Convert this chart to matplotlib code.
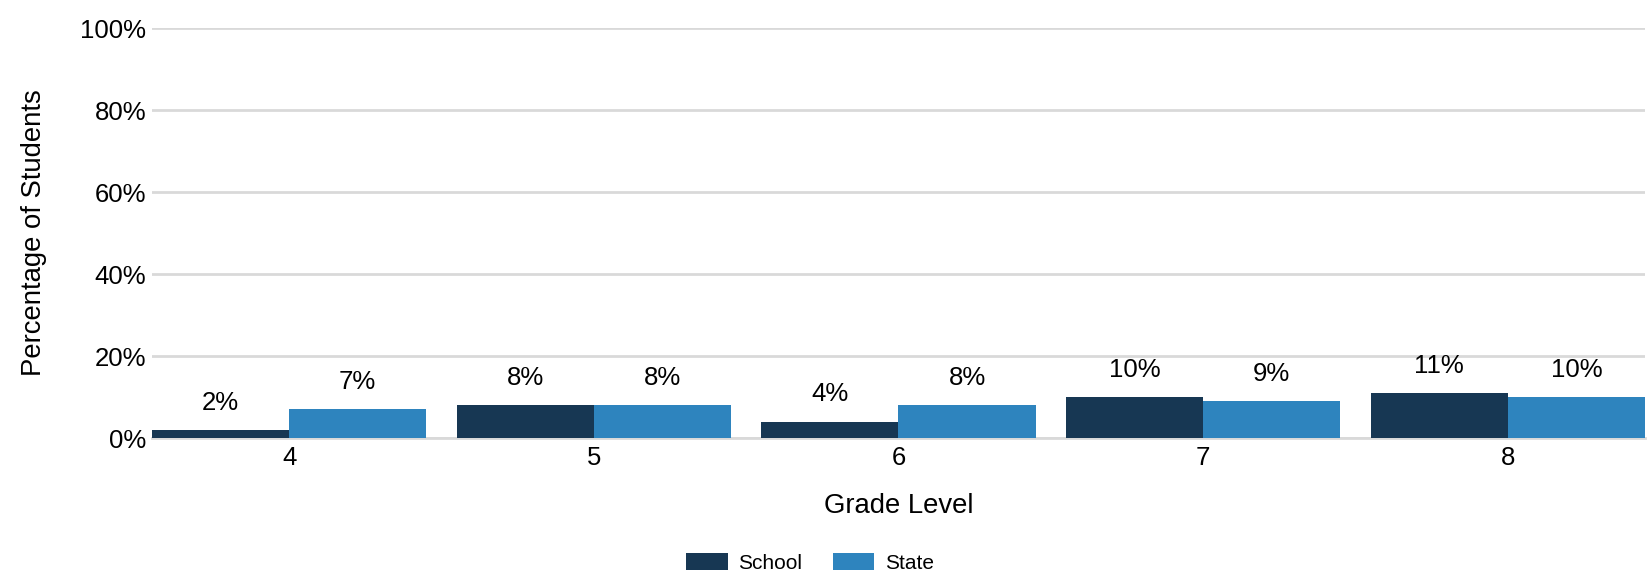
import numpy as np
import matplotlib
matplotlib.use("Agg")
import matplotlib.pyplot as plt
from matplotlib.ticker import FuncFormatter

plt.rcParams['font.family'] = ['Liberation Sans', 'DejaVu Sans']

grades = ["4", "5", "6", "7", "8"]
school = [2, 8, 4, 10, 11]
state = [7, 8, 8, 9, 10]
series_names = ["School", "State"]
colors = ["#173753", "#2E84BE"]

fig = plt.figure(figsize=(16.48, 5.81), dpi=100)
ax = fig.add_axes([152/1648, 1-438/581, 1493/1648, 410/581])

x = np.arange(len(grades))
w = 0.45
b1 = ax.bar(x - w/2, school, w, color=colors[0], label=series_names[0], zorder=3)
b2 = ax.bar(x + w/2, state, w, color=colors[1], label=series_names[1], zorder=3)

for bars, vals in ((b1, school), (b2, state)):
    for r, v in zip(bars, vals):
        ax.annotate(f"{v}%", (r.get_x() + r.get_width()/2, v),
                    xytext=(0, 11), textcoords="offset points",
                    ha="center", va="bottom", fontsize=18.5)

ax.set_xlim(-0.45, len(grades) - 0.55)
ax.set_ylim(0, 100)
ax.set_yticks(range(0, 101, 20))
ax.yaxis.set_major_formatter(FuncFormatter(lambda v, p: f"{v:.0f}%"))
ax.set_xticks(x)
ax.set_xticklabels(grades)
ax.tick_params(axis="both", length=0, labelsize=18.5)
ax.tick_params(axis="y", pad=4)
ax.tick_params(axis="x", pad=6)
ax.grid(axis="y", color="#d9d9d9", linewidth=2, zorder=0)
for s in ["top", "right", "left"]:
    ax.spines[s].set_visible(False)
ax.spines["bottom"].set_color("#d9d9d9")
ax.spines["bottom"].set_linewidth(2)

ax.set_xlabel("Grade Level", fontsize=19.8, labelpad=16)
ax.set_ylabel("Percentage of Students", fontsize=19.8, labelpad=24)

leg = fig.legend(loc="center", bbox_to_anchor=(810/1648, 1-563/581), ncol=2,
                 frameon=False, fontsize=15, handlelength=2.0, handleheight=0.87,
                 handletextpad=0.5, columnspacing=1.45)

fig.savefig("out.png", dpi=100)
